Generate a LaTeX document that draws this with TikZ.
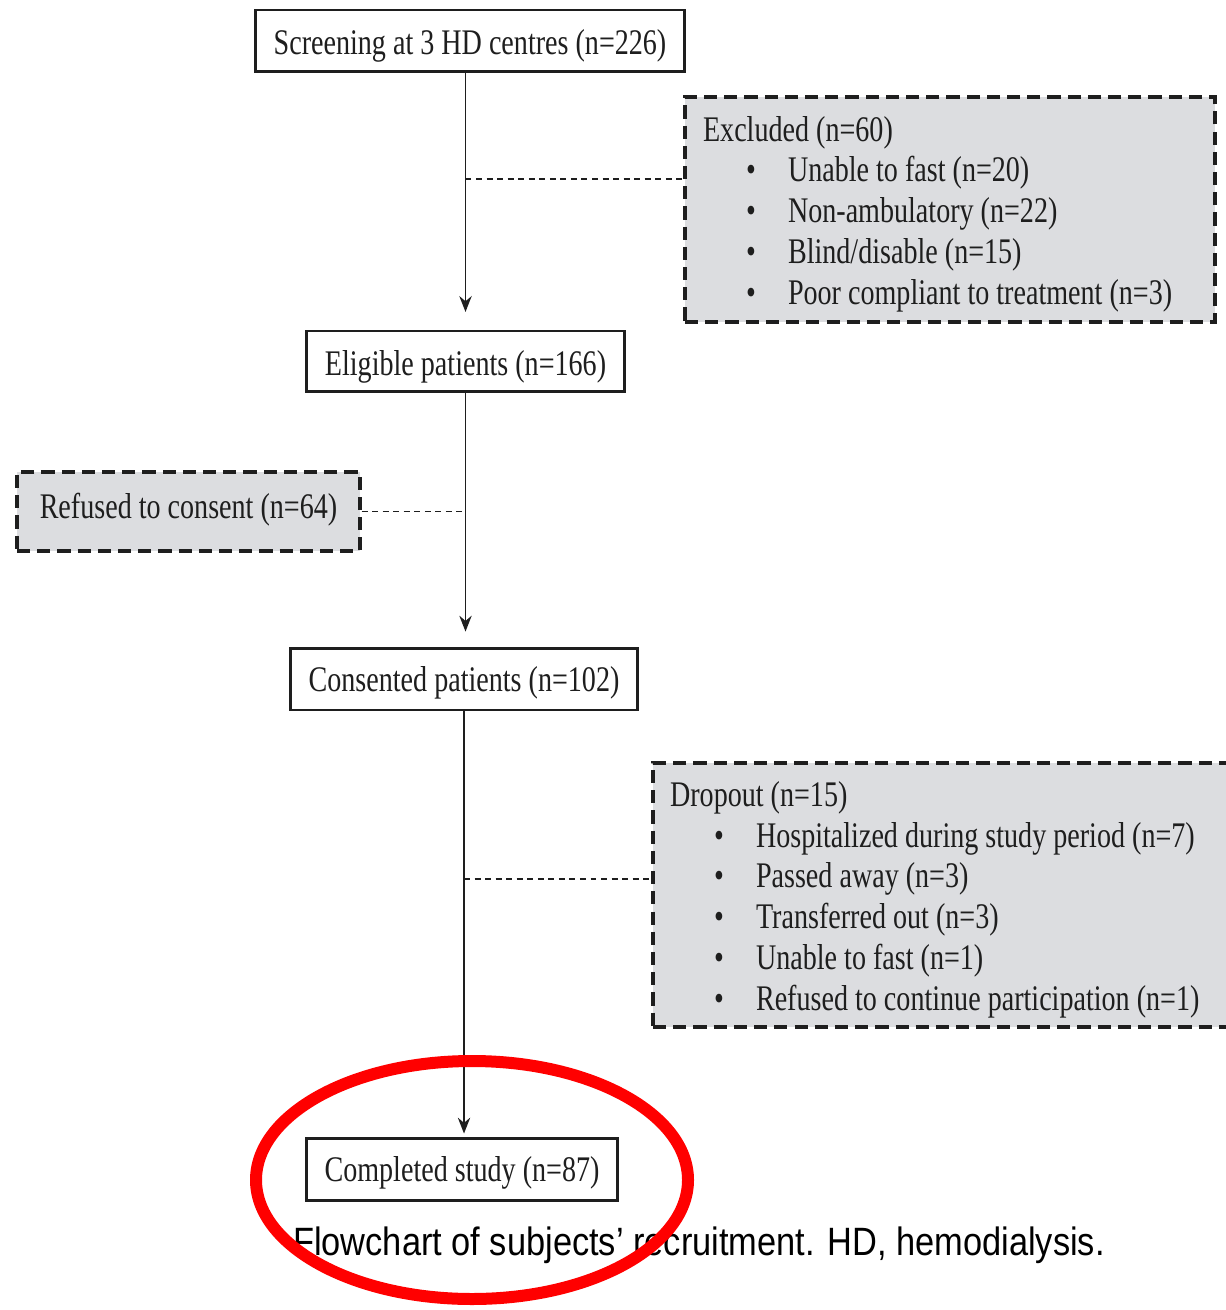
\documentclass[tikz,border=0pt]{standalone}
\usepackage{fontspec}
\setmainfont{Liberation Serif}[FakeStretch=0.78]
\newfontfamily\capfont{Liberation Sans}[FakeStretch=0.87]
\usetikzlibrary{arrows.meta,calc}
\definecolor{boxgray}{RGB}{220,221,224}
\definecolor{ink}{RGB}{30,30,30}
\newcommand{\bitem}[3]{\hspace*{#1}\makebox[#2][l]{\textbullet}#3}
\newcommand{\lowered}[2][0.1cm]{\raisebox{-#1}[\height][\depth]{#2}}
\begin{document}
\begin{tikzpicture}[x=0.02cm,y=-0.02cm,
  every node/.style={font=\fontsize{20.5}{23.2}\selectfont, text=ink},
  solidbox/.style={draw=ink, line width=1.7pt, fill=white, inner sep=0pt},
  dashbox/.style={draw=ink, line width=1.8pt, fill=boxgray, dash pattern=on 7.5pt off 4pt, inner ysep=0pt},
  arr/.style={draw=ink, line width=1.1pt, -{Stealth[length=9pt,width=7pt]}},
  conn/.style={draw=ink, line width=1pt, dash pattern=on 3.4pt off 2.6pt}]
\useasboundingbox (0,0) rectangle (1225,1310);
\fill[white] (0,0) rectangle (1225,1310);

\node[solidbox, minimum width=8.6cm, minimum height=1.24cm] (scr) at (470,41) {\lowered{Screening at 3 HD centres (n=226)}};
\node[solidbox, minimum width=6.38cm, minimum height=1.22cm] (elig) at (465.5,361.5) {\lowered{Eligible patients (n=166)}};
\node[solidbox, minimum width=6.96cm, minimum height=1.24cm] (cons) at (464,679) {\lowered[0.08cm]{Consented patients (n=102)}};
\node[solidbox, minimum width=6.24cm, minimum height=1.24cm] (comp) at (462,1169) {\lowered[0.08cm]{Completed study (n=87)}};

\node[dashbox, minimum width=10.6cm, minimum height=4.5cm, inner xsep=0.36cm] (excl) at (950,209.5) {\lowered{\makebox[9.88cm][l]{\begin{tabular}{@{}l@{}}%
Excluded (n=60)\\
\bitem{0.86cm}{0.84cm}{Unable to fast (n=20)}\\
\bitem{0.86cm}{0.84cm}{Non-ambulatory (n=22)}\\
\bitem{0.86cm}{0.84cm}{Blind/disable (n=15)}\\
\bitem{0.86cm}{0.84cm}{Poor compliant to treatment (n=3)}
\end{tabular}}}};

\node[dashbox, minimum width=6.86cm, minimum height=1.58cm] (ref) at (188.5,511.5) {\lowered[-0.03cm]{Refused to consent (n=64)}};

\node[dashbox, minimum width=11.84cm, minimum height=5.28cm, inner xsep=0.34cm] (drop) at (949,895) {\lowered{\makebox[11.16cm][l]{\begin{tabular}{@{}l@{}}%
Dropout (n=15)\\
\bitem{0.88cm}{0.84cm}{Hospitalized during study period (n=7)}\\
\bitem{0.88cm}{0.84cm}{Passed away (n=3)}\\
\bitem{0.88cm}{0.84cm}{Transferred out (n=3)}\\
\bitem{0.88cm}{0.84cm}{Unable to fast (n=1)}\\
\bitem{0.88cm}{0.84cm}{Refused to continue participation (n=1)}
\end{tabular}}}};

% main flow
\draw[arr, shorten >=10pt] (elig.north |- scr.south) -- (elig.north);
\draw[arr, shorten >=8.5pt] (elig.south) -- (elig.south |- cons.north);
\draw[arr, shorten >=1.7pt] (cons.south) -- (cons.south |- comp.north);

% side connectors
\coordinate (j1) at (465.5,179);
\draw[conn] (j1) -- (j1 -| excl.west);
\draw[conn] (ref.east) -- (ref.east -| elig.south);
\coordinate (j3) at (464,879);
\draw[conn] (j3) -- (j3 -| drop.west);

\node[font=\capfont\fontsize{22.5}{26}\selectfont, text=black] (cap) at (699,1245) {Flowchart of subjects’ recruitment. HD, hemodialysis.};

\draw[red, line width=0.24cm] (472,1180) ellipse [x radius=216, y radius=119];
\end{tikzpicture}
\end{document}
